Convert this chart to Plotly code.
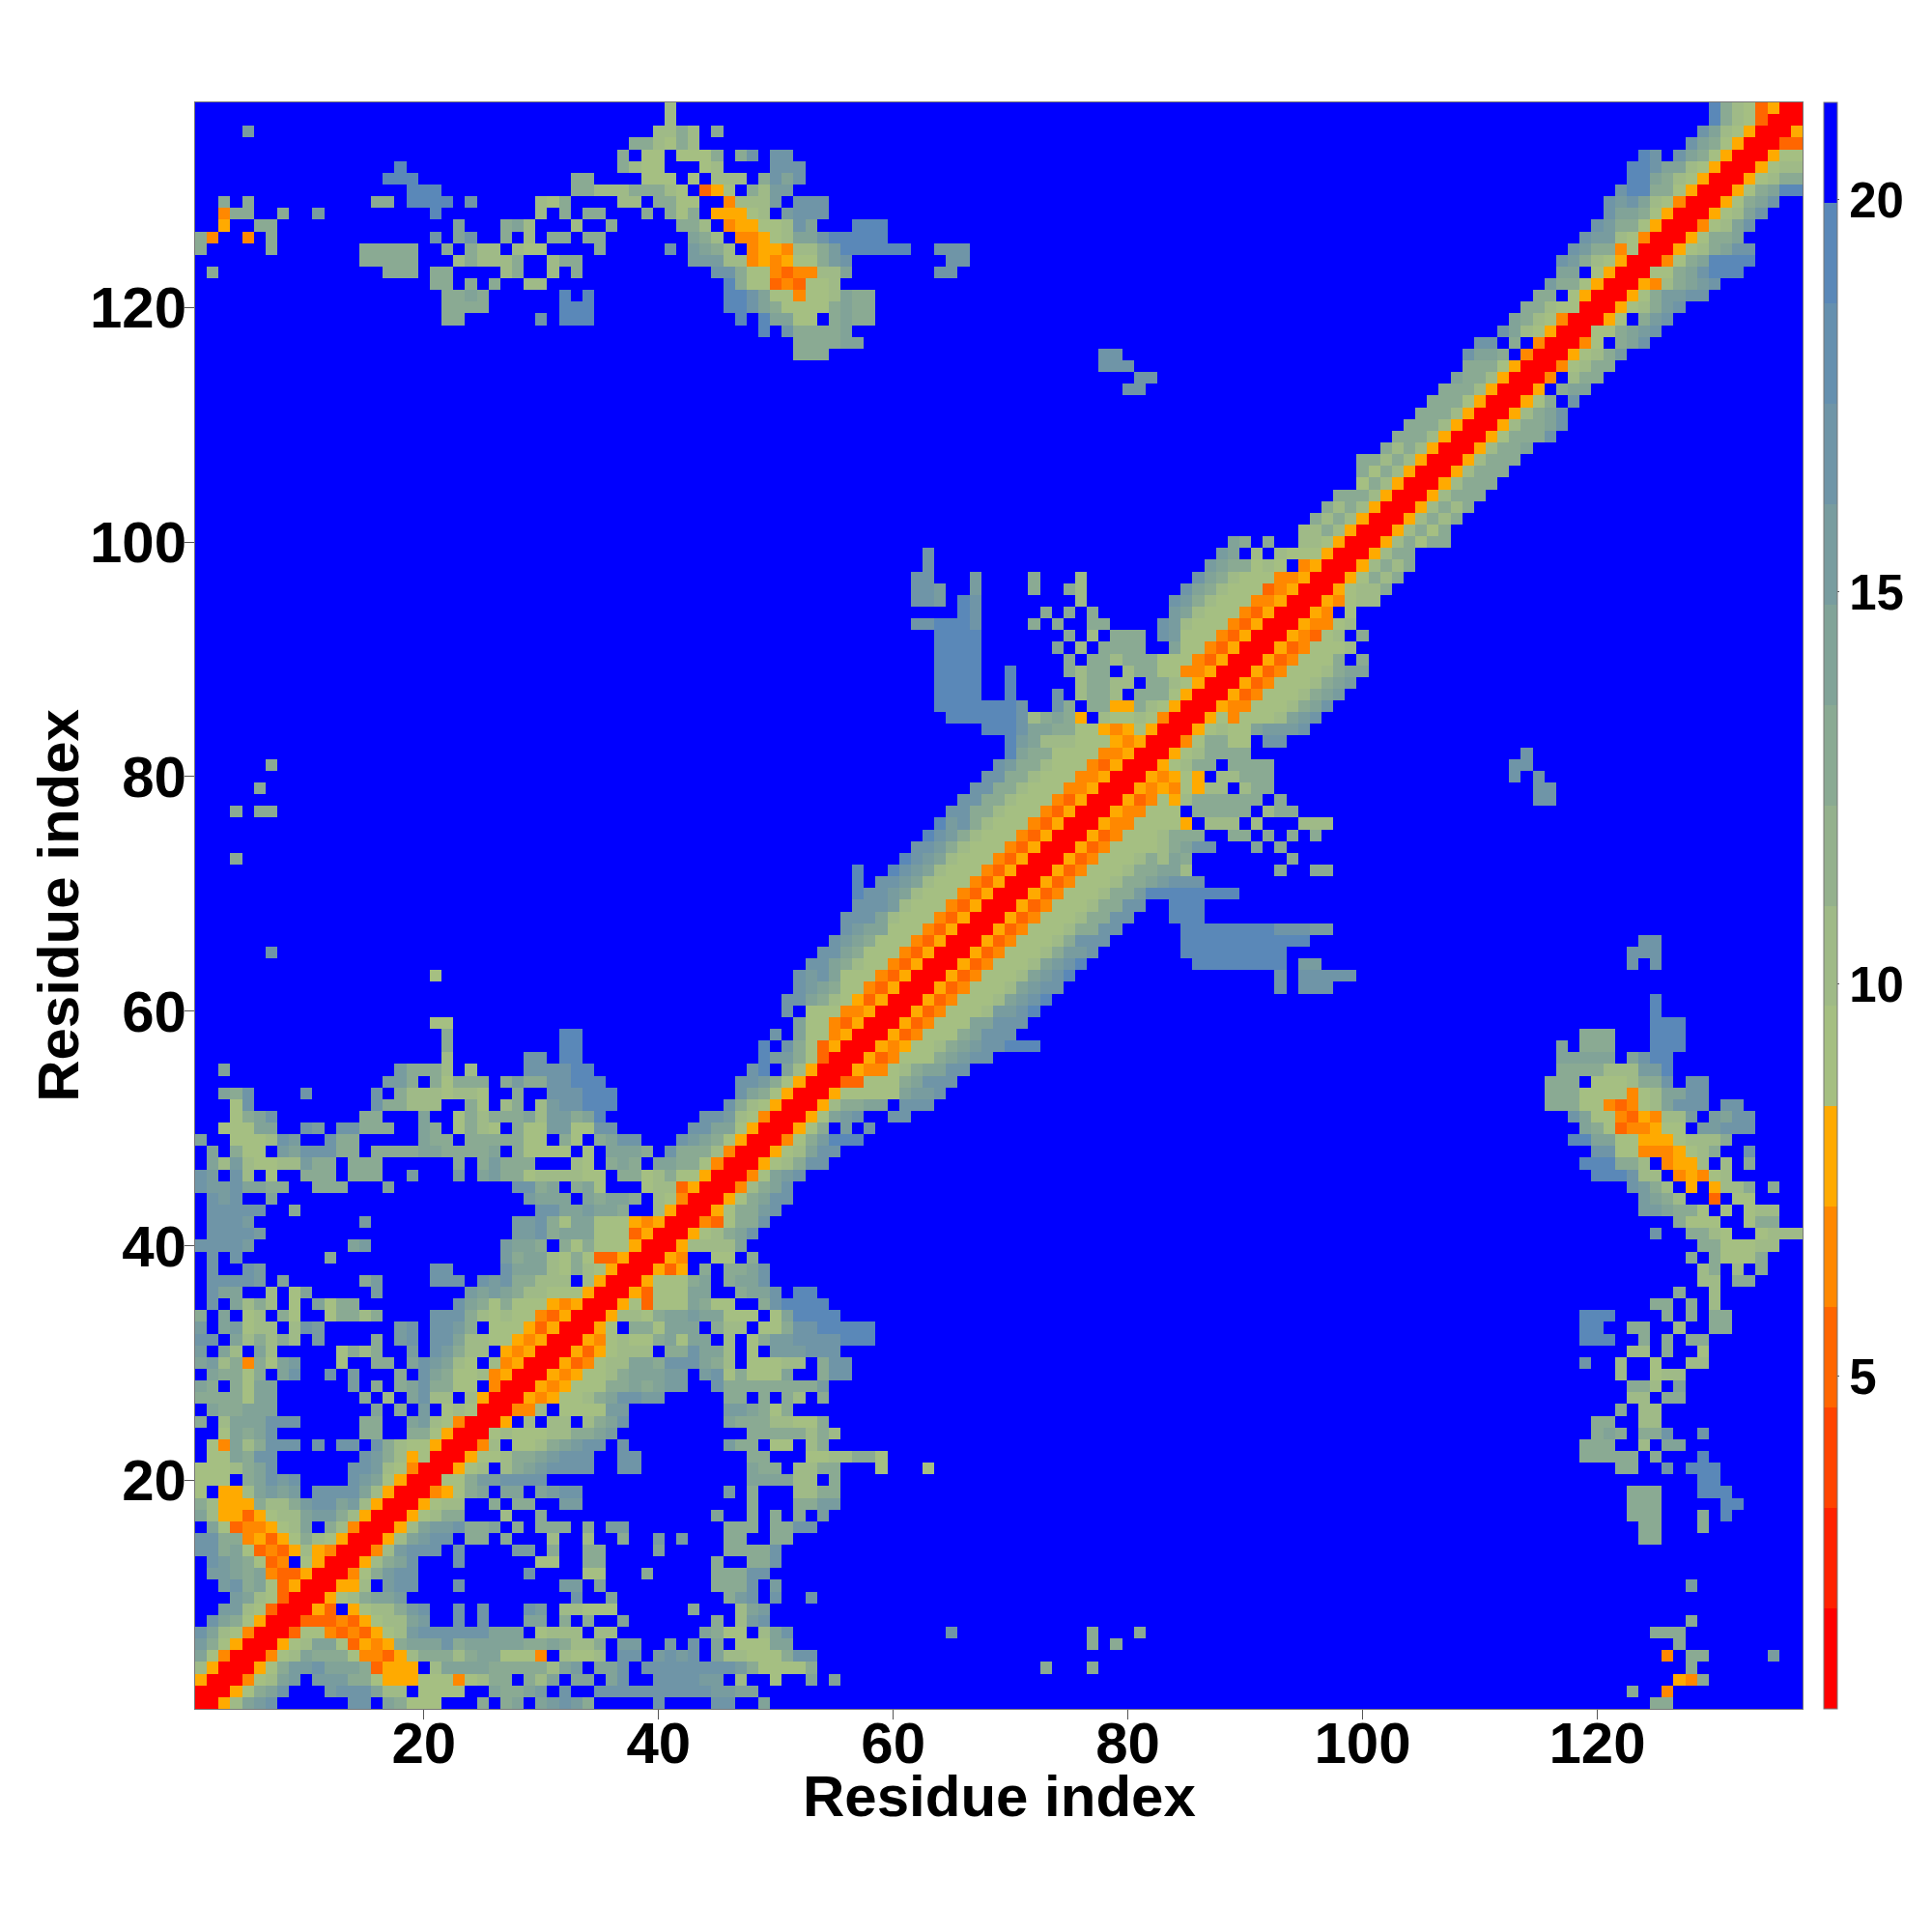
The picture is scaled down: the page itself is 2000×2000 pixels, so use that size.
import plotly.graph_objects as go

# Residue-pair distance bands (symmetric map, lower-right half).
# Each row: "firstResidue:bandcodes ..." ; '.' = beyond the last band (blue)
ROWS = [
"1:0058abc 14:cc 17:a9777 25:9 27:9a 30:abcb9 40:c 45:cc 49:a 125:99",
"2:00579ac 12:bccc 16:a88 20:7777 26:a99ab 32:c 35:cc 37:ccccccccbbaa 123:9 126:4",
"3:00478ab 11:bbb997555 20:77747899 29:98a 33:aa 36:a 37:c 40:ccccbb 47:8 50:7 53:a 55:a 127:549",
"4:00579bbcaaa93555 21:8aaaa99999 31:8ab 35:aa 37:c.ccccccccb977779 73:9 77:9 128:9",
"5:00478a99974435 19:89998 24:9aa7774 32:8778 37:cc.bcbc.a887779cc 126:4 128:99 135:b",
"6:00578aa735459aaac9aaaaa99a9889 37:bb..b.c.a.777aa 77:9 79:9 127:9",
"7:003774343578bccccccaaa 30:7888 35:88 44:a977.8ac 65:c 77:9 81:9 125:999",
"8:00333435788ab 23:c.c...aa.9.9 37:a 45:9 47:8bc 128:9",
"9:0053.57889bc 23:c.c 29:cb 32:88777 43:9 47:8ab",
"10:005789aab 33:c 36:a 46:9bc.c 53:c",
"11:00558.bcc 23:c 32:bb 35:a 45:999c.b 128:b",
"12:00479bcc 29:c 34:77 39:9 45:999cc",
"13:00589ac 23:c 30:77 34:99 45:9 48:99c",
"14:0048bccc 23:c 28:bb 31:9 34:99 40:a 46:9999c",
"15:0058abcc.99.9...8..8 37:9 40:b 42:b 46:99 50:99 124:99",
"16:0058abbc99a.9.999.9.bb 46:999 50:99cc 124:99 129:9",
"17:0057899 27:8 30:9 45:a 48:9 50:9 52:9 54:b 123:999 129:9 131:d",
"18:005788 26:9 28:99 32:bb 48:9 52:99bb 123:999 131:dd",
"19:004579a.aa.abcc 46:b 48:9 52:8899 123:999 129:ddd",
"20:00779bbcccc 48:aaaa88.9 129:dd",
"21:00578.89abcccc 37:cc 48:a99.8899 59:7 63:7 122:99 126:c 128:ddd",
"22:00577899abccc 37:cc 48:99...7788997 119:99999 125:9 129:d",
"23:0048.7789abcc 37:c 46:b99.77.89 119:999 124:8 126:aa",
"24:00787778899ab 48:99999898 120:9a9 124:99 126:c 129:c",
"25:005.8.88.89ac 46:a99988779 120:99 124:88",
"26:00448.7777bb 46:bba979 122:9 124:88",
"27:005457789ac 38:cbb 46:99.9.98.9 123:88 126:99",
"28:0054577799a9abb 45:c99999999b 123:998 127:a",
"29:005457789aaabb 44:bc79777a 54:9cc 122:8..788",
"30:00534788aa9ccca98.77788.9cc 119:c 122:8 125:7 128:88",
"31:005357888.99caa8.7.bbbccc 123:88 126:9 129:7",
"32:005478779a7aa.8.79bbccccddd 119:ddd 124:9 126:9 128:99",
"33:0057.997aaa.988.779ccddddd 119:dd 123:99 127:8 130:99",
"34:0058879aabaa777.7adddd 119:ddd 126:9 128:9 130:99",
"35:00573777a977..9cdddd 125:99 128:9 130:8",
"36:0053777aa..9aac.dd 127:9 130:8",
"37:0057779a.9aac 129:88 132:99",
"38:00535.9.99ac 129:89 132:8 134:9",
"39:0054..77.9 128:9.97779",
"40:0058888a 129:9977788",
"41:005789ac 125:c..9987..7888",
"42:0043799c 127:9777..799",
"43:005799bc 124:bba997.7.788",
"44:00579acc 124:ba98..3.77",
"45:00489ac 123:cb98.5.5889.9",
"46:0047abc 120:dddc88.45478",
"47:005789cc 119:ddd998.4558.8.9",
"48:00578acc 120:cc774445789..c",
"49:00479bddd 118:ddaa7755578889",
"50:00579.b.c 119:a97344577.bbccc",
"51:0057abc..cc 118:ca77435488b.bacc",
"52:005899aa.ccc 116:9997743478accc.cc",
"53:00577777abbc 116:9997777478aacc",
"54:00337779accc 116:999.777899c.cc",
"55:00544789aacc 117:9999888bbd",
"56:005347779abcc 117:aaaaa.acdd",
"57:005457789abccddd 117:a.999...ddd",
"58:005347779accc 119:999 125:ddd",
"59:00534777aaccc 125:ddd",
"60:005347778bbcd 125:d",
"61:005347778abcd 125:d",
"62:005347778abcc 93:c 95:ccc",
"63:005347778abcd 93:c 95:ccccc",
"64:005347778abcd 86:dddddddd 95:bb 123:c 125:c",
"65:0053477789bbc 85:ddddddddd 123:ccc",
"66:0053477789ccc 85:ddddddddddd 124:cc",
"67:00534777899cc 85:ddddddddcccbb",
"68:00534777899cc 84:ddd",
"69:00534777899cc 84:ddd",
"70:00534777899bdddddddd",
"71:00534777899abccc",
"72:00534777899aa8 93:9 96:99",
"73:00534777898a9 94:9",
"74:00534777789acc 91:a.9",
"75:005347778999..99.9.9.9",
"76:0054477775.888.8...888",
"77:00544777.99999.899",
"78:00534758999999.9 115:cc",
"79:0054547588.899 115:cc",
"80:0054575.88999 113:c.c",
"81:0057899.9999 113:cc",
"82:005789999 114:c",
"83:00479977.cc",
"84:0057877abbbc",
"85:005747778abc",
"86:0054477789ac",
"87:0053477789ab",
"88:0053477789ab",
"89:0053477789aa",
"90:005347779.9",
"91:005347778",
"92:0054378.9",
"93:0054478",
"94:0054.7",
"95:0054788",
"96:0057889",
"97:0057989",
"98:0058989",
"99:005899",
"100:00589799",
"101:0058979",
"102:0058989",
"103:0058989",
"104:0058999",
"105:0058999",
"106:0058999",
"107:0058999",
"108:005899a",
"109:0057999c",
"110:005899ac",
"111:00589ac",
"112:00579.c",
"113:005.9aa",
"114:004.899",
"115:0047899",
"116:005789b",
"117:0047.9ac",
"118:00779abc",
"119:0057.9bc",
"120:005789bc",
"121:00579bbcc",
"122:005489abc",
"123:00779acddd",
"124:00479adddd",
"125:005789acc",
"126:005799a",
"127:00478ac",
"128:00578ac",
"129:00579ac",
"130:00579add",
"131:0057899",
"132:005788",
"133:00577",
"134:0033",
"135:005",
"136:00",
"137:0",
]

BAND_COLORS = ["#ff0000", "#ff2200", "#ff4400", "#ff6600", "#ff8800", "#ffaa00",
               "#a5bf82", "#9fba87", "#94b18d", "#8aaa93", "#81a398", "#789c9f",
               "#6f95a7", "#6590af", "#5a88b8", "#0000ff"]
CODE_TO_BAND = {"0": 0, "3": 3, "4": 4, "5": 5, "7": 6, "8": 7, "9": 9, "a": 10,
                "b": 11, "c": 12, "d": 14, ".": 15}
Z_MIN, Z_MAX = 0.76, 21.24
TICKS = [20, 40, 60, 80, 100, 120]
CBAR_TICKS = [5, 10, 15, 20]
AXIS_TITLE = "Residue index"

N = 137
width = (Z_MAX - Z_MIN) / len(BAND_COLORS)
band_value = lambda b: Z_MIN + (b + 0.5) * width
z = [[band_value(15)] * N for _ in range(N)]
for line in ROWS:
    row = None
    for seg in line.split():
        start, codes = seg.split(":")
        start = int(start)
        if row is None:
            row = start
        for k, code in enumerate(codes):
            col = start + k
            if col <= N:
                z[row - 1][col - 1] = z[col - 1][row - 1] = band_value(CODE_TO_BAND[code])

scale = []
for i, c in enumerate(BAND_COLORS):
    scale.append([i / len(BAND_COLORS), c])
    scale.append([(i + 1) / len(BAND_COLORS), c])

residues = list(range(1, N + 1))
FONT = dict(family="Liberation Sans", weight=700, color="black")
# plot box inside the figure (the page adds an 8 px body margin)
L, R, T, B = 193.7, 1858.0, 98.0, 1761.0
fig = go.Figure(go.Heatmap(
    x=residues, y=residues, z=z, zmin=Z_MIN, zmax=Z_MAX, colorscale=scale,
    zsmooth=False, hoverongaps=False,
    colorbar=dict(
        x=(1880.5 - L) / (R - L), xanchor="left", y=0, yanchor="bottom", len=1, ypad=0, xpad=0,
        thickness=13.5, outlinewidth=1, outlinecolor="#777", tickvals=CBAR_TICKS,
        ticks="outside", ticklen=2, tickwidth=1, tickcolor="#555",
        tickfont=dict(size=51, **FONT)),
))
axis = dict(range=[0.5, 137.5], tickvals=TICKS, ticks="outside", ticklen=10, tickwidth=1,
            tickcolor="#555", mirror=True, showline=True, linecolor="#777", linewidth=1,
            showgrid=False, zeroline=False, tickfont=dict(size=60, **FONT))
fig.update_layout(
    width=2000, height=2000, plot_bgcolor="white", paper_bgcolor="white",
    margin=dict(l=L, r=2000 - R, t=T, b=2000 - B, autoexpand=False, pad=0),
    xaxis=dict(axis, ticklabelstandoff=-27),
    yaxis=dict(axis, ticklabelstandoff=-14),
    annotations=[
        dict(text=AXIS_TITLE, xref="paper", yref="paper", x=0.5, y=-(1851.5 - B) / (B - T),
             xanchor="center", yanchor="middle", showarrow=False, font=dict(size=60, **FONT)),
        dict(text=AXIS_TITLE, xref="paper", yref="paper", x=(52 - L) / (R - L), y=0.5,
             xanchor="center", yanchor="middle", textangle=-90, showarrow=False,
             font=dict(size=60, **FONT)),
    ],
)
fig.write_html("out.html")
